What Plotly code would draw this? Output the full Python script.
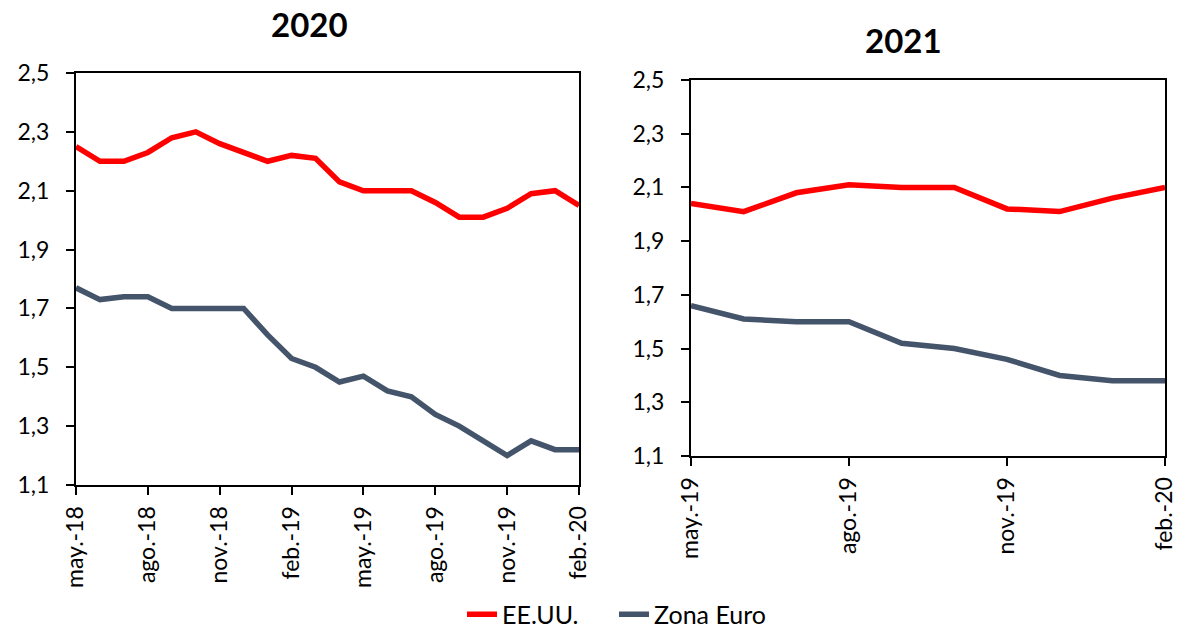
import plotly.graph_objects as go

months_2020 = ["may.-18","jun.-18","jul.-18","ago.-18","sep.-18","oct.-18","nov.-18","dic.-18",
               "ene.-19","feb.-19","mar.-19","abr.-19","may.-19","jun.-19","jul.-19","ago.-19",
               "sep.-19","oct.-19","nov.-19","dic.-19","ene.-20","feb.-20"]
us_2020 = [2.25,2.20,2.20,2.23,2.28,2.30,2.26,2.23,2.20,2.22,2.21,2.13,2.10,2.10,2.10,2.06,
           2.01,2.01,2.04,2.09,2.10,2.05]
ez_2020 = [1.77,1.73,1.74,1.74,1.70,1.70,1.70,1.70,1.61,1.53,1.50,1.45,1.47,1.42,1.40,1.34,
           1.30,1.25,1.20,1.25,1.22,1.22]

months_2021 = ["may.-19","jun.-19","jul.-19","ago.-19","sep.-19","oct.-19","nov.-19","dic.-19",
               "ene.-20","feb.-20"]
us_2021 = [2.04,2.01,2.08,2.11,2.10,2.10,2.02,2.01,2.06,2.10]
ez_2021 = [1.66,1.61,1.60,1.60,1.52,1.50,1.46,1.40,1.38,1.38]

ticks_2020 = ["may.-18","ago.-18","nov.-18","feb.-19","may.-19","ago.-19","nov.-19","feb.-20"]
ticks_2021 = ["may.-19","ago.-19","nov.-19","feb.-20"]

RED = "#FF0000"
SLATE = "#44546A"
FONT = "Lato"

fig = go.Figure()
fig.add_trace(go.Scatter(x=months_2020, y=us_2020, mode="lines", name="EE.UU.",
                         line=dict(color=RED, width=5.5), xaxis="x", yaxis="y"))
fig.add_trace(go.Scatter(x=months_2020, y=ez_2020, mode="lines", name="Zona Euro",
                         line=dict(color=SLATE, width=5.5), xaxis="x", yaxis="y"))
fig.add_trace(go.Scatter(x=months_2021, y=us_2021, mode="lines", name="EE.UU.",
                         line=dict(color=RED, width=5.5), xaxis="x2", yaxis="y2", showlegend=False))
fig.add_trace(go.Scatter(x=months_2021, y=ez_2021, mode="lines", name="Zona Euro",
                         line=dict(color=SLATE, width=5.5), xaxis="x2", yaxis="y2", showlegend=False))

tickfont = dict(family=FONT, size=23, color="black")
axcommon = dict(showline=True, linecolor="black", linewidth=2, mirror=True, showgrid=False,
                zeroline=False, ticks="outside", tickcolor="black", tickwidth=2, ticklen=8,
                tickfont=tickfont, automargin=False)

fig.update_layout(
    width=1179, height=630,
    margin=dict(l=0, r=0, t=0, b=0, autoexpand=False),
    paper_bgcolor="white", plot_bgcolor="white",
    separators=",.",
    font=dict(family=FONT, color="black", size=23),
    xaxis=dict(domain=[76/1179, 579/1179], anchor="y", type="category",
               categoryorder="array", categoryarray=months_2020,
               range=[0, len(months_2020)-1], tickmode="array", tickvals=ticks_2020,
               ticktext=ticks_2020, tickangle=-90, ticklabelstandoff=2, **axcommon),
    yaxis=dict(domain=[1-485/630, 1-73/630], anchor="x", range=[1.1, 2.5], dtick=0.2,
               tick0=1.1, tickformat=".1f", ticklabelstandoff=12, **axcommon),
    xaxis2=dict(domain=[691/1179, 1165/1179], anchor="y2", type="category",
                categoryorder="array", categoryarray=months_2021,
                range=[0, len(months_2021)-1], tickmode="array", tickvals=ticks_2021,
                ticktext=ticks_2021, tickangle=-90, ticklabelstandoff=2, **axcommon),
    yaxis2=dict(domain=[1-456/630, 1-80/630], anchor="x2", range=[1.1, 2.5], dtick=0.2,
                tick0=1.1, tickformat=".1f", ticklabelstandoff=12, **axcommon),
    legend=dict(orientation="h", x=462/1179, xanchor="left", y=-0.012, yanchor="bottom",
                font=dict(family=FONT, size=25, color="black"),
                entrywidth=107, entrywidthmode="pixels", tracegroupgap=0),
    annotations=[
        dict(text="<b>2020</b>", x=309/1179, y=1-24/630, xref="paper", yref="paper",
             xanchor="center", yanchor="middle",
             showarrow=False, font=dict(family=FONT, size=33, color="black")),
        dict(text="<b>2021</b>", x=903/1179, y=1-40/630, xref="paper", yref="paper",
             xanchor="center", yanchor="middle",
             showarrow=False, font=dict(family=FONT, size=33, color="black")),
    ],
)

fig.write_html("out.html", config={"displayModeBar": False},
               post_script="document.body.style.margin='0';document.body.style.overflow='hidden';")
